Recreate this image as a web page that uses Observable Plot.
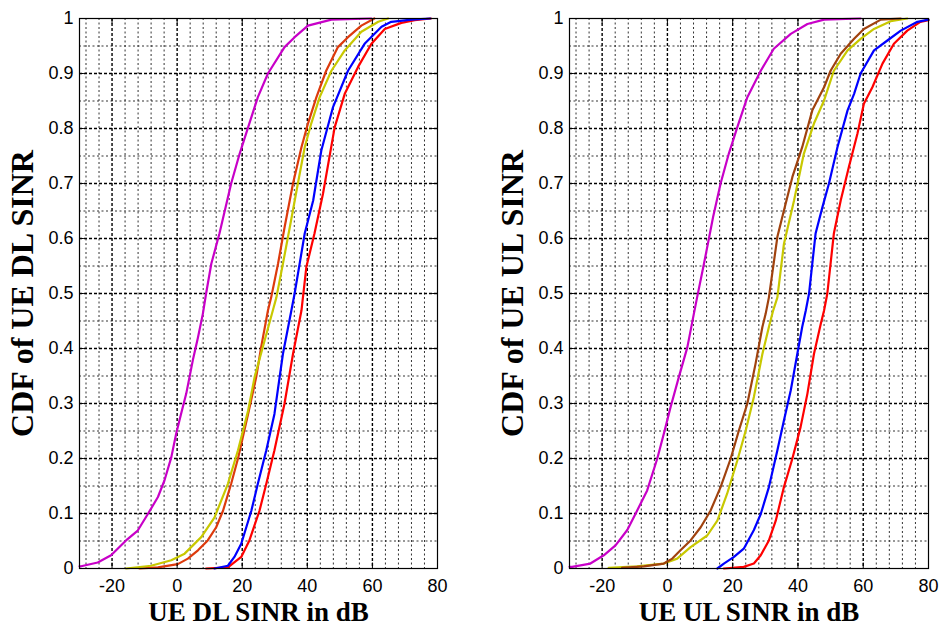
<!DOCTYPE html>
<html>
<head>
<meta charset="utf-8">
<script src="https://cdn.jsdelivr.net/npm/d3@7"></script>
<script src="https://cdn.jsdelivr.net/npm/@observablehq/plot@0.6"></script>
<style>
  html, body { margin: 0; padding: 0; background: #fff; }
  #wrap { display: flex; width: 941px; height: 627px; }
  #wrap svg { display: block; }
</style>
</head>
<body>
<div id="wrap"></div>
<script>
// ---------- tick labels ----------
const xTicks = [-20, 0, 20, 40, 60, 80];
const yTicks = [0, 0.1, 0.2, 0.3, 0.4, 0.5, 0.6, 0.7, 0.8, 0.9, 1];
const xMajorGrid = [-20, 0, 20, 40, 60];
const yMajorGrid = [0.1, 0.2, 0.3, 0.4, 0.5, 0.6, 0.7, 0.8, 0.9];
const xMinorGrid = [-28, -24, -16, -12, -8, -4, 4, 8, 12, 16, 24, 28, 32, 36, 44, 48, 52, 56, 64, 68, 72, 76];
const yMinorGrid = [0.05, 0.15, 0.25, 0.35, 0.45, 0.55, 0.65, 0.75, 0.85, 0.95];

// ---------- left panel: UE DL SINR ----------
const dlMagentaX = [-30, -29.5, -24.4, -20.3, -15.7, -12.1, -9.0, -5.9, -3.9, -1.8, -0.3, 1.2, 2.8, 4.8, 6.4, 7.9, 8.9, 10.5, 13.0, 16.6, 19.2, 21.8, 24.8, 27.9, 33, 36.1, 40.2, 47.4, 59.7];
const dlMagentaP = [0.004, 0.004, 0.011, 0.024, 0.051, 0.069, 0.099, 0.13, 0.16, 0.202, 0.245, 0.281, 0.318, 0.378, 0.42, 0.463, 0.50, 0.554, 0.609, 0.70, 0.754, 0.802, 0.857, 0.90, 0.948, 0.966, 0.987, 0.998, 1];
const dlOrangeX = [-11.6, -5.9, 0.2, 3.3, 6.4, 9.4, 12, 14.1, 16.6, 18.7, 21.8, 24.3, 25.8, 27.9, 28.9, 31, 33, 35.6, 38.2, 40.2, 42.8, 45.8, 49.4, 52.5, 56.6, 60.6];
const dlOrangeP = [0, 0.002, 0.008, 0.018, 0.033, 0.051, 0.075, 0.105, 0.154, 0.20, 0.281, 0.348, 0.402, 0.469, 0.493, 0.554, 0.62, 0.70, 0.766, 0.809, 0.857, 0.905, 0.948, 0.966, 0.987, 1];
const dlYellowX = [-15.7, -8, -1.8, 2.3, 7.4, 11.5, 15.6, 18.7, 21.8, 23.8, 26.9, 29.4, 30.5, 32.5, 34.6, 37.1, 39.2, 41.2, 43.8, 47.4, 51.5, 56.6, 61.8, 64.8];
const dlYellowP = [0, 0.005, 0.015, 0.027, 0.057, 0.093, 0.154, 0.215, 0.287, 0.348, 0.415, 0.469, 0.493, 0.554, 0.62, 0.70, 0.766, 0.809, 0.857, 0.905, 0.942, 0.976, 0.994, 1];
const dlBlueX = [11.5, 15.6, 17.6, 19.7, 22.8, 24.8, 27.4, 29.9, 32.5, 35.1, 36.1, 39.2, 41.8, 44.3, 47.9, 52.5, 57.6, 62.8, 65.8, 72, 77.8];
const dlBlueP = [0, 0.005, 0.021, 0.045, 0.105, 0.154, 0.215, 0.281, 0.39, 0.469, 0.50, 0.609, 0.669, 0.76, 0.839, 0.905, 0.954, 0.985, 0.994, 0.998, 1];
const dlRedX = [8.9, 15.6, 19.7, 22.2, 25.3, 27.4, 29.9, 33, 35.6, 38.2, 39.7, 42.2, 44.8, 48.4, 51.5, 55.6, 59.7, 63.8, 68.9, 73, 78];
const dlRedP = [0, 0.002, 0.021, 0.051, 0.105, 0.154, 0.215, 0.30, 0.39, 0.469, 0.548, 0.609, 0.681, 0.802, 0.863, 0.912, 0.954, 0.981, 0.992, 0.997, 1];

// ---------- right panel: UE UL SINR ----------
const ulMagentaX = [-30, -29.2, -23.6, -19.5, -15.9, -12.3, -9.3, -6.2, -3.1, -1.1, 1, 3.5, 6.1, 8.1, 9.1, 11.2, 14.0, 16.3, 18.8, 21.4, 24.5, 28.6, 32.6, 37.8, 42.9, 48, 59.2];
const ulMagentaP = [0.003, 0.003, 0.009, 0.024, 0.042, 0.07, 0.105, 0.142, 0.20, 0.245, 0.294, 0.348, 0.402, 0.463, 0.493, 0.554, 0.639, 0.70, 0.754, 0.802, 0.857, 0.905, 0.945, 0.972, 0.99, 0.998, 1];
const ulBrownX = [-13.9, -7.2, -1.1, 1.5, 4, 7.1, 10.2, 13.2, 16.3, 19.4, 21.9, 24.5, 27, 29.1, 30.1, 31.1, 33.7, 35.7, 38.3, 41.3, 44.4, 48, 50, 53.1, 57.2, 60.2, 65.4, 71.5];
const ulBrownP = [0.001, 0.004, 0.009, 0.018, 0.033, 0.051, 0.075, 0.105, 0.148, 0.20, 0.251, 0.30, 0.372, 0.439, 0.463, 0.493, 0.603, 0.651, 0.712, 0.766, 0.833, 0.875, 0.905, 0.936, 0.963, 0.981, 0.998, 1];
const ulYellowX = [-18, -9.3, -1.1, 3, 7.1, 12.2, 15.3, 18.3, 21.4, 24, 26.5, 29.1, 31.1, 32.4, 33.7, 35.7, 38.8, 41.8, 44.9, 48, 51, 55.2, 59.2, 63.3, 68.4, 73.5];
const ulYellowP = [0.001, 0.004, 0.009, 0.018, 0.039, 0.06, 0.087, 0.136, 0.196, 0.251, 0.312, 0.39, 0.439, 0.469, 0.493, 0.59, 0.669, 0.754, 0.809, 0.851, 0.905, 0.942, 0.963, 0.981, 0.995, 1];
const ulBlueX = [15.3, 17.3, 20.4, 23.4, 26.5, 28.6, 31.1, 33.7, 35.7, 37.8, 39.8, 41.3, 42.4, 43.4, 45.4, 47.5, 49.5, 52.1, 55.2, 57.2, 59.2, 63.3, 67.4, 71.5, 76.6, 80];
const ulBlueP = [0, 0.009, 0.021, 0.036, 0.07, 0.099, 0.148, 0.215, 0.269, 0.324, 0.39, 0.439, 0.469, 0.50, 0.609, 0.657, 0.70, 0.766, 0.833, 0.863, 0.90, 0.942, 0.96, 0.978, 0.994, 0.998];
const ulRedX = [17.3, 23.4, 26.5, 28.6, 31.1, 33.2, 35.7, 38.3, 40.8, 42.9, 44.9, 47, 48, 49, 51, 53.1, 55.6, 58.2, 60.2, 62.8, 65.9, 69.4, 73.5, 77.5, 80];
const ulRedP = [0, 0.003, 0.009, 0.024, 0.051, 0.087, 0.148, 0.20, 0.257, 0.318, 0.39, 0.445, 0.469, 0.50, 0.609, 0.669, 0.73, 0.79, 0.845, 0.875, 0.918, 0.954, 0.978, 0.994, 0.997];

const dlSeries = [
  {x: dlMagentaX, p: dlMagentaP, color: "#C800C8"},
  {x: dlRedX, p: dlRedP, color: "#FF0000"},
  {x: dlBlueX, p: dlBlueP, color: "#0000FF"},
  {x: dlOrangeX, p: dlOrangeP, color: "#DD3A0C"},
  {x: dlYellowX, p: dlYellowP, color: "#C8C800"}
];
const ulSeries = [
  {x: ulMagentaX, p: ulMagentaP, color: "#C800C8"},
  {x: ulRedX, p: ulRedP, color: "#FF0000"},
  {x: ulBlueX, p: ulBlueP, color: "#0000FF"},
  {x: ulYellowX, p: ulYellowP, color: "#C8C800"},
  {x: ulBrownX, p: ulBrownP, color: "#A0420E"}
];

const yFmt = d => String(+d.toFixed(1));
const xFmt = d => String(d);
const titleFont = "'Liberation Serif', 'Times New Roman', serif";

function panel(series, xlabel, ylabel, width, ml, mr) {
  return Plot.plot({
    width, height: 627,
    marginTop: 18, marginBottom: 59, marginLeft: ml, marginRight: mr,
    x: {domain: [-30, 80], label: null},
    y: {domain: [0, 1], label: null},
    style: {fontFamily: "'Liberation Sans', Arial, sans-serif", fontSize: "18px", color: "#000", background: "#fff", overflow: "visible"},
    marks: [
      Plot.ruleX(xMinorGrid, {stroke: "#333", strokeWidth: 1, strokeDasharray: "2,2.5"}),
      Plot.ruleY(yMinorGrid, {stroke: "#333", strokeWidth: 1, strokeDasharray: "2,2.5"}),
      Plot.ruleX(xMajorGrid, {stroke: "#000", strokeWidth: 1.4, strokeDasharray: "3,2"}),
      Plot.ruleY(yMajorGrid, {stroke: "#000", strokeWidth: 1.4, strokeDasharray: "3,2"}),
      ...series.map(s => Plot.line(s.x.map((x, i) => [x, s.p[i]]), {stroke: s.color, strokeWidth: 2.2})),
      Plot.ruleX(xTicks, {y1: 0, y2: 0.01, stroke: "#000"}),
      Plot.ruleX(xTicks, {y1: 0.99, y2: 1, stroke: "#000"}),
      Plot.ruleY(yTicks, {x1: -30, x2: -28.5, stroke: "#000"}),
      Plot.ruleY(yTicks, {x1: 78.5, x2: 80, stroke: "#000"}),
      Plot.frame({stroke: "#000", strokeWidth: 1.2}),
      Plot.axisX(xTicks, {tickSize: 0, tickPadding: 11, fontSize: 18, tickFormat: xFmt, label: null}),
      Plot.axisY(yTicks, {tickSize: 0, tickPadding: 6, fontSize: 18, tickFormat: yFmt, label: null}),
      Plot.text([xlabel], {text: d => d, frameAnchor: "bottom", dy: 44, textAnchor: "middle", lineAnchor: "middle", fontSize: 27, fontWeight: "bold", fontFamily: titleFont, fill: "#000"}),
      Plot.text([ylabel], {text: d => d, frameAnchor: "left", dx: -57, rotate: -90, textAnchor: "middle", lineAnchor: "middle", fontSize: 32, fontWeight: "bold", fontFamily: titleFont, fill: "#000"})
    ]
  });
}

const wrap = document.getElementById("wrap");
wrap.append(panel(dlSeries, "UE DL SINR in dB", "CDF of UE DL SINR", 490, 79, 53));
wrap.append(panel(ulSeries, "UE UL SINR in dB", "CDF of UE UL SINR", 451, 79, 13));
</script>
</body>
</html>
